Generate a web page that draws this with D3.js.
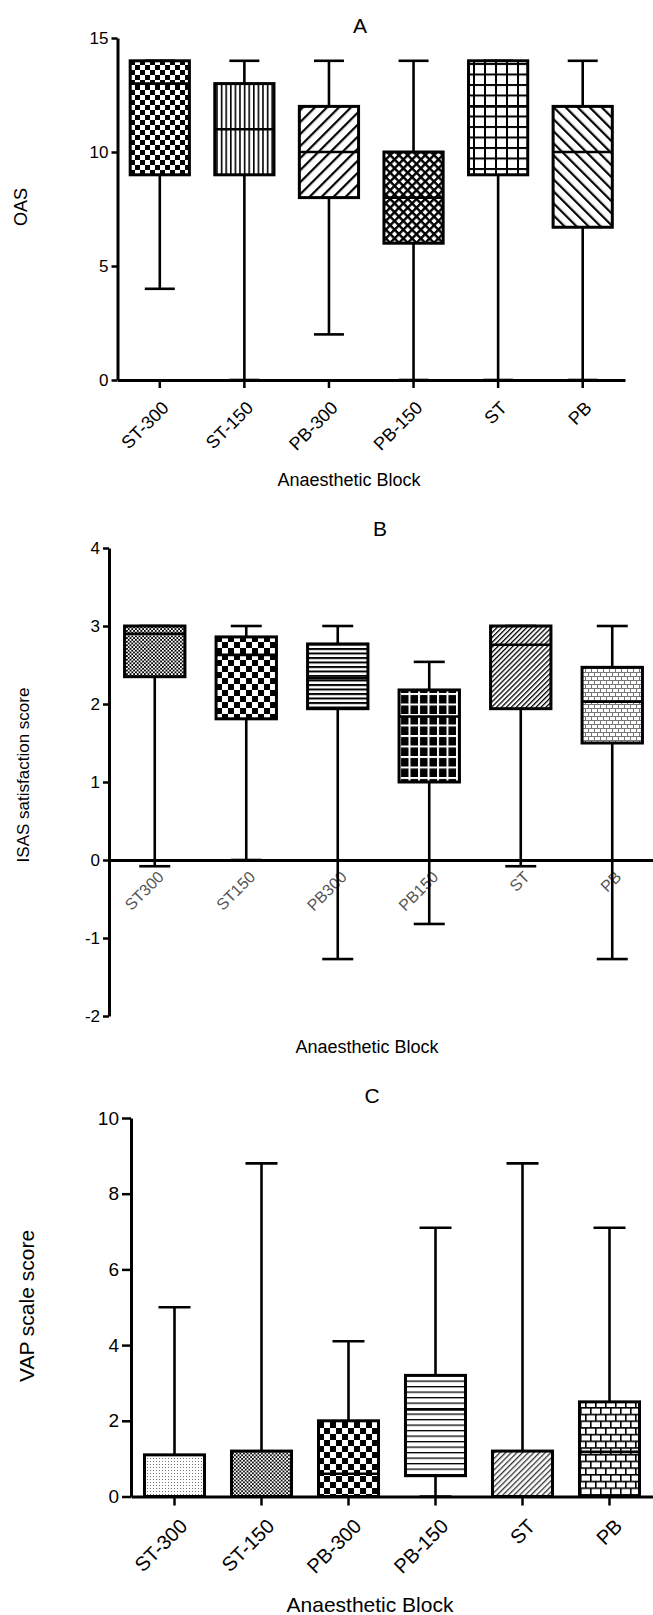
<!DOCTYPE html>
<html><head><meta charset="utf-8">
<script src="https://cdn.jsdelivr.net/npm/d3@7"></script>
<style>body{margin:0;background:#fff} svg{display:block}</style>
</head><body><svg id="c" width="653" height="1615"></svg>
<script>
// ---------- Panel A: OAS ----------
const categoriesA = ["ST-300","ST-150","PB-300","PB-150","ST","PB"];
const minA = [4, 0, 2, 0, 0, 0];
const q1A  = [9, 9, 8, 6, 9, 6.7];
const medA = [13, 11, 10, 8, 12, 10];
const q3A  = [14, 13, 12, 10, 14, 12];
const maxA = [14, 14, 14, 14, 14, 14];
const ticksA = [0, 5, 10, 15];

// ---------- Panel B: ISAS ----------
const categoriesB = ["ST300","ST150","PB300","PB150","ST","PB"];
const minB = [-0.08, 0, -1.27, -0.82, -0.08, -1.27];
const q1B  = [2.35, 1.81, 1.94, 1.0, 1.94, 1.5];
const medB = [2.9, 2.63, 2.33, 1.84, 2.76, 2.03];
const q3B  = [3, 2.86, 2.77, 2.18, 3, 2.47];
const maxB = [3, 3, 3, 2.54, 3, 3];
const ticksB = [-2, -1, 0, 1, 2, 3, 4];

// ---------- Panel C: VAP ----------
const categoriesC = ["ST-300","ST-150","PB-300","PB-150","ST","PB"];
const minC = [0, 0, 0, 0, 0, 0];
const q1C  = [0, 0, 0, 0.55, 0, 0];
const medC = [0, 0, 0.6, 2.3, 0, 1.18];
const q3C  = [1.1, 1.2, 2.0, 3.2, 1.2, 2.5];
const maxC = [5.0, 8.8, 4.1, 7.1, 8.8, 7.1];
const ticksC = [0, 2, 4, 6, 8, 10];

const FONT = "'Liberation Sans', Arial, sans-serif";
const svg = d3.select("#c");
const defs = svg.append("defs");

function pat(id, w, h, rot, bg) {
  const p = defs.append("pattern").attr("id", id).attr("patternUnits", "userSpaceOnUse")
    .attr("width", w).attr("height", h);
  if (rot) p.attr("patternTransform", `rotate(${rot})`);
  p.append("rect").attr("width", w).attr("height", h).attr("fill", bg || "#fff");
  return p;
}
function checker(id, s, fg, bg) {
  const p = pat(id, 2 * s, 2 * s, 0, bg || "#fff");
  p.append("rect").attr("width", s).attr("height", s).attr("fill", fg || "#000");
  p.append("rect").attr("x", s).attr("y", s).attr("width", s).attr("height", s).attr("fill", fg || "#000");
}
function vlines(id, sp, lw, rot, fg, bg) {
  const p = pat(id, sp, 10, rot, bg || "#fff");
  p.append("rect").attr("width", lw).attr("height", 10).attr("fill", fg || "#000");
}
function hlines(id, sp, lw, fg, bg) {
  const p = pat(id, 10, sp, 0, bg || "#fff");
  p.append("rect").attr("width", 10).attr("height", lw).attr("fill", fg || "#000");
}
function grid(id, w, h, lw, fg, bg, rot) {
  const p = pat(id, w, h, rot, bg);
  p.append("rect").attr("width", w).attr("height", lw).attr("fill", fg);
  p.append("rect").attr("width", lw).attr("height", h).attr("fill", fg);
}
function brick(id, w, h, lw, fg, bg) {
  const p = pat(id, w, 2 * h, 0, bg);
  p.append("rect").attr("width", w).attr("height", lw).attr("fill", fg);
  p.append("rect").attr("y", h).attr("width", w).attr("height", lw).attr("fill", fg);
  p.append("rect").attr("width", lw).attr("height", h).attr("fill", fg);
  p.append("rect").attr("x", w / 2).attr("y", h).attr("width", lw).attr("height", h).attr("fill", fg);
}
function dots(id, s, r, fg, bg) {
  const p = pat(id, s, s, 0, bg);
  p.append("rect").attr("width", r).attr("height", r).attr("fill", fg);
}

// patterns A
checker("pA0", 5);
vlines("pA1", 4.6, 1.6, 0);
vlines("pA2", 8.5, 2.2, 45);
grid("pA3", 6.2, 6.2, 2.4, "#000", "#fff", 45);
grid("pA4", 11, 10.5, 2, "#000", "#fff", 0);
vlines("pA5", 8.5, 2.2, -45);
// patterns B
checker("pB0", 1.8, "#000", "#fff");
checker("pB1", 6);
hlines("pB2", 4.5, 2, "#000", "#fff");
grid("pB3", 9.5, 10.5, 2, "#fff", "#000", 0);
vlines("pB4", 3.5, 1.3, 45, "#000", "#fff");
brick("pB5", 6, 4, 1, "#777", "#fff");
// patterns C
dots("pC0", 3, 1, "#777", "#fff");
checker("pC1", 1.8, "#111", "#fff");
checker("pC2", 6);
hlines("pC3", 5.5, 1.3, "#000", "#fff");
vlines("pC4", 4, 1.3, 45, "#333", "#fff");
brick("pC5", 10, 6.7, 1.6, "#000", "#fff");

function panel(c) {
  const x = d3.scaleBand().domain(c.cats).range(c.xRange);
  const y = d3.scaleLinear().domain(c.yDomain).range(c.yRange);
  const g = svg.append("g");
  const y0 = y(0);

  // title
  g.append("text").attr("x", c.title[1]).attr("y", c.title[2]).attr("text-anchor", "middle")
    .attr("font-family", FONT).attr("font-size", c.titleSize).text(c.title[0]);
  // y label
  g.append("text").attr("transform", `translate(${c.ylab[1]},${c.ylab[2]}) rotate(-90)`)
    .attr("text-anchor", "middle").attr("dy", "0.35em")
    .attr("font-family", FONT).attr("font-size", c.ylabSize).text(c.ylab[0]);
  // x title
  g.append("text").attr("x", c.xlab[1]).attr("y", c.xlab[2]).attr("text-anchor", "middle")
    .attr("dy", "0.35em").attr("font-family", FONT).attr("font-size", c.xlabSize).text(c.xlab[0]);

  // category labels
  g.selectAll(".cl").data(c.cats).join("text")
    .attr("transform", d => `translate(${x(d) + x.bandwidth() / 2 + c.labOff[0]},${y0 + c.labOff[1]}) rotate(-45)`)
    .attr("text-anchor", "end").attr("font-family", FONT).attr("font-size", c.labSize)
    .attr("fill", c.labColor).text(d => d);

  // y axis
  const ya = g.append("g").attr("transform", `translate(${c.xRange[0]},0)`)
    .call(d3.axisLeft(y).tickValues(c.ticks).tickSize(c.yTick).tickSizeOuter(0).tickPadding(3)
      .tickFormat(d => String(d)));
  ya.select(".domain").attr("stroke-width", 3);
  ya.selectAll(".tick line").attr("stroke-width", 2.5);
  ya.selectAll(".tick text").attr("font-family", FONT).attr("font-size", c.tickSize).attr("fill", "#000");

  // x axis
  const xa = g.append("g").attr("transform", `translate(0,${y0})`)
    .call(d3.axisBottom(x).tickSize(c.xTick).tickSizeOuter(0).tickFormat(""));
  xa.select(".domain").attr("stroke-width", 3);
  xa.selectAll(".tick line").attr("stroke-width", 2.5);

  const idx = d3.range(c.cats.length);
  const cx = i => x(c.cats[i]) + x.bandwidth() / 2;
  const bw = x.step() * c.boxFrac;
  // whiskers
  g.selectAll(".wh").data(idx).join("line")
    .attr("x1", cx).attr("x2", cx).attr("y1", i => y(c.mins[i])).attr("y2", i => y(c.maxs[i]))
    .attr("stroke", "#000").attr("stroke-width", 2.6);
  // caps
  ["mins", "maxs"].forEach(k => {
    g.selectAll(".cap" + k).data(idx).join("line")
      .attr("x1", i => cx(i) - c.capW / 2).attr("x2", i => cx(i) + c.capW / 2)
      .attr("y1", i => y(c[k][i])).attr("y2", i => y(c[k][i]))
      .attr("stroke", "#000").attr("stroke-width", 2.6);
  });
  // boxes
  g.selectAll(".bx").data(idx).join("rect")
    .attr("x", i => cx(i) - bw / 2).attr("width", bw)
    .attr("y", i => y(c.q3s[i])).attr("height", i => y(c.q1s[i]) - y(c.q3s[i]))
    .attr("fill", i => `url(#${c.pats[i]})`).attr("stroke", "#000").attr("stroke-width", 3);
  // medians
  g.selectAll(".md").data(idx).join("line")
    .attr("x1", i => cx(i) - bw / 2).attr("x2", i => cx(i) + bw / 2)
    .attr("y1", i => y(c.meds[i])).attr("y2", i => y(c.meds[i]))
    .attr("stroke", "#000").attr("stroke-width", 2.6);
}

panel({
  cats: categoriesA, mins: minA, q1s: q1A, meds: medA, q3s: q3A, maxs: maxA, ticks: ticksA,
  yDomain: [0, 15], yRange: [380, 38], xRange: [117.5, 625],
  boxFrac: 0.7, capW: 30, yTick: 6, xTick: 8, tickSize: 17,
  pats: ["pA0", "pA1", "pA2", "pA3", "pA4", "pA5"],
  title: ["A", 360, 33], titleSize: 21,
  ylab: ["OAS", 21, 207], ylabSize: 18,
  xlab: ["Anaesthetic Block", 349, 480], xlabSize: 18,
  labOff: [10, 29], labSize: 18, labColor: "#000"
});
panel({
  cats: categoriesB, mins: minB, q1s: q1B, meds: medB, q3s: q3B, maxs: maxB, ticks: ticksB,
  yDomain: [-2, 4], yRange: [1016, 548], xRange: [109, 658],
  boxFrac: 0.66, capW: 31, yTick: 6, xTick: 0, tickSize: 17,
  pats: ["pB0", "pB1", "pB2", "pB3", "pB4", "pB5"],
  title: ["B", 380, 536], titleSize: 21,
  ylab: ["ISAS satisfaction score", 23, 775], ylabSize: 17,
  xlab: ["Anaesthetic Block", 367, 1047], xlabSize: 18,
  labOff: [10, 18], labSize: 16, labColor: "#555"
});
panel({
  cats: categoriesC, mins: minC, q1s: q1C, meds: medC, q3s: q3C, maxs: maxC, ticks: ticksC,
  yDomain: [0, 10], yRange: [1496.5, 1118], xRange: [131, 653],
  boxFrac: 0.69, capW: 32, yTick: 9, xTick: 9, tickSize: 19,
  pats: ["pC0", "pC1", "pC2", "pC3", "pC4", "pC5"],
  title: ["C", 372, 1103], titleSize: 21,
  ylab: ["VAP scale score", 27, 1306], ylabSize: 21,
  xlab: ["Anaesthetic Block", 370, 1605], xlabSize: 21,
  labOff: [14, 31], labSize: 20, labColor: "#000"
});
</script>
</body></html>
